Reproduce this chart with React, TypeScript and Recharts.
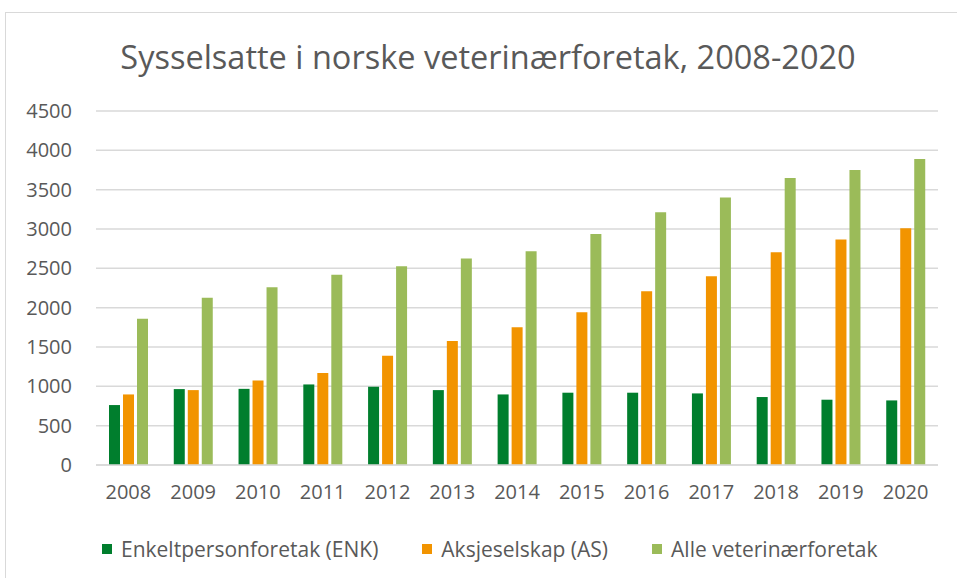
import { Bar, BarChart, CartesianGrid, XAxis, YAxis } from "recharts";

const years = ["2008", "2009", "2010", "2011", "2012", "2013", "2014", "2015", "2016", "2017", "2018", "2019", "2020"];
const enk = [762, 965, 968, 1024, 995, 952, 897, 919, 919, 910, 864, 830, 821];
const as = [897, 952, 1075, 1168, 1388, 1575, 1752, 1943, 2210, 2400, 2705, 2866, 3010];
const alle = [1858, 2125, 2260, 2417, 2527, 2624, 2718, 2938, 3213, 3399, 3649, 3750, 3890];
const yTicks = [0, 500, 1000, 1500, 2000, 2500, 3000, 3500, 4000, 4500];

const series = [
  { key: "enk", name: "Enkeltpersonforetak (ENK)", color: "#007E2D" },
  { key: "as", name: "Aksjeselskap (AS)", color: "#F29400" },
  { key: "alle", name: "Alle veterinærforetak", color: "#9BBB59" },
];

const data = years.map((year, i) => ({ year, enk: enk[i], as: as[i], alle: alle[i] }));

const font = "'Open Sans', 'Noto Sans', sans-serif";
const textColor = "#595959";

export default function App() {
  return (
    <div
      style={{
        position: "absolute",
        left: 0,
        top: 0,
        width: 957,
        height: 578,
        overflow: "hidden",
        background: "#fff",
        fontFamily: font,
        color: textColor,
      }}
    >
      <div
        style={{
          position: "absolute",
          left: 5,
          top: 12,
          width: 1000,
          height: 700,
          border: "1px solid #d9d9d9",
        }}
      />
      <div
        style={{
          position: "absolute",
          left: 0,
          width: 976,
          top: 35,
          textAlign: "center",
          fontSize: 32.5,
          lineHeight: "44px",
          whiteSpace: "nowrap",
        }}
      >
        Sysselsatte i norske veterinærforetak, 2008-2020
      </div>
      <div style={{ position: "absolute", left: 0, top: 0 }}>
        <BarChart
          width={957}
          height={578}
          data={data}
          margin={{ top: 111, right: 19, bottom: 73, left: 0 }}
          barSize={11}
          barGap={3}
        >
          <CartesianGrid vertical={false} stroke="#d9d9d9" strokeWidth={1.5} />
          <XAxis
            dataKey="year"
            height={40}
            tickLine={false}
            axisLine={{ stroke: "#d9d9d9", strokeWidth: 1.5 }}
            tickSize={0}
            tickMargin={20}
            tick={{ fill: textColor, fontSize: 20, fontFamily: font }}
            interval={0}
          />
          <YAxis
            width={96}
            domain={[0, 4500]}
            ticks={yTicks}
            tickLine={false}
            axisLine={false}
            tickSize={0}
            tickMargin={24}
            tick={{ fill: textColor, fontSize: 20, fontFamily: font }}
          />
          {series.map((s) => (
            <Bar
              key={s.key}
              dataKey={s.key}
              name={s.name}
              fill={s.color}
              isAnimationActive={false}
            />
          ))}
        </BarChart>
      </div>
      <div
        style={{
          position: "absolute",
          left: 102,
          top: 535,
          display: "flex",
          alignItems: "center",
          gap: 44,
          fontSize: 21,
          lineHeight: "28px",
          whiteSpace: "nowrap",
        }}
      >
        {series.map((s) => (
          <div key={s.key} style={{ display: "flex", alignItems: "center" }}>
            <span
              style={{
                display: "inline-block",
                width: 10,
                height: 10,
                background: s.color,
                marginRight: 9,
              }}
            />
            <span>{s.name}</span>
          </div>
        ))}
      </div>
    </div>
  );
}
